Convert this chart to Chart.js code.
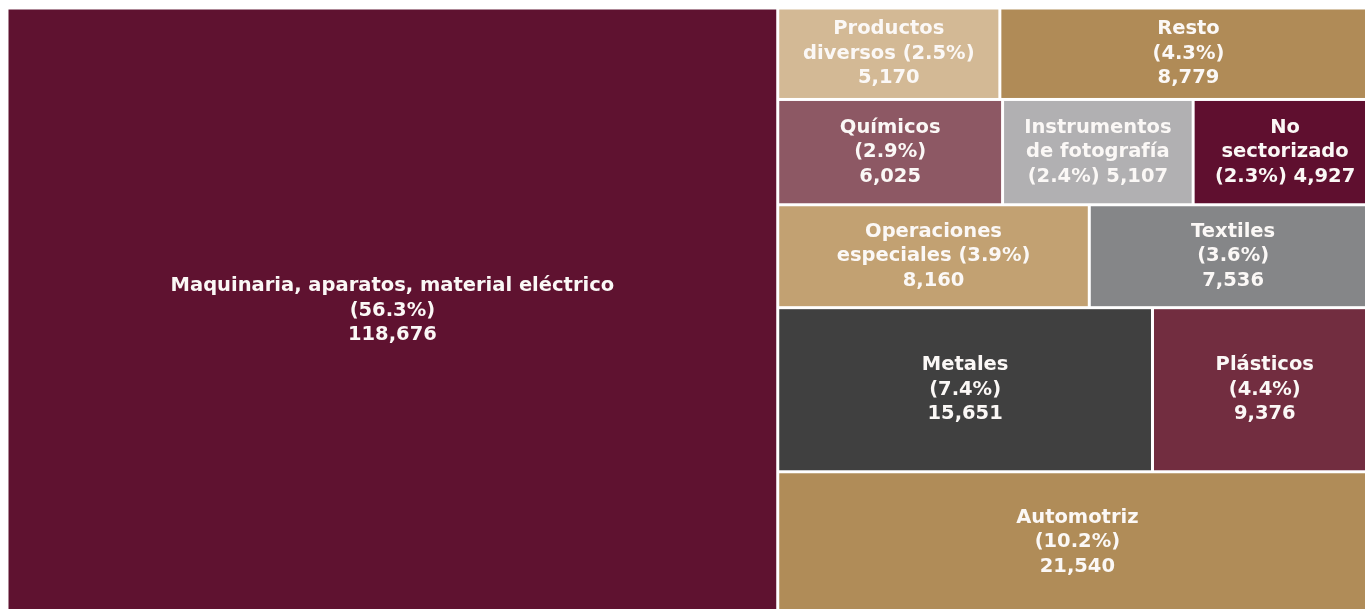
<!DOCTYPE html>
<html>
<head>
<meta charset="utf-8">
<script src="https://cdn.jsdelivr.net/npm/chart.js@4.4.0/dist/chart.umd.min.js"></script>
<style>
  html, body { margin: 0; padding: 0; background: #fff; overflow: hidden; }
  #wrap { position: relative; width: 1377px; height: 613px; }
</style>
</head>
<body>
<div id="wrap"><canvas id="treemap"></canvas></div>
<script>
const sectors = [
  'Maquinaria, aparatos, material eléctrico',
  'Productos diversos',
  'Resto',
  'Químicos',
  'Instrumentos de fotografía',
  'No sectorizado',
  'Operaciones especiales',
  'Textiles',
  'Metales',
  'Plásticos',
  'Automotriz'
];
const values = [118676, 5170, 8779, 6025, 5107, 4927, 8160, 7536, 15651, 9376, 21540];
const shares = [56.3, 2.5, 4.3, 2.9, 2.4, 2.3, 3.9, 3.6, 7.4, 4.4, 10.2];
const colors = [
  '#5f1230', '#d3b995', '#b08b57', '#8d5864', '#b1b0b2', '#5f0f2f',
  '#c2a172', '#858688', '#404040', '#722d40', '#b08c58'
];
// line breaks of each label, {p} = share, {v} = value
const labelLines = [
  ['Maquinaria, aparatos, material eléctrico', '{p}', '{v}'],
  ['Productos', 'diversos {p}', '{v}'],
  ['Resto', '{p}', '{v}'],
  ['Químicos', '{p}', '{v}'],
  ['Instrumentos', 'de fotografía', '{p} {v}'],
  ['No', 'sectorizado', '{p} {v}'],
  ['Operaciones', 'especiales {p}', '{v}'],
  ['Textiles', '{p}', '{v}'],
  ['Metales', '{p}', '{v}'],
  ['Plásticos', '{p}', '{v}'],
  ['Automotriz', '{p}', '{v}']
];
// first sector takes its own column, the rest are stacked rows on the right
const rightRows = [[1, 2], [3, 4, 5], [6, 7], [8, 9], [10]];

function layoutCells() {
  const total = values.reduce((a, b) => a + b, 0);
  const cells = [];
  const leftW = values[0] / total;
  cells[0] = { x0: 0, x1: leftW, y0: 0, y1: 1 };
  const rightSum = total - values[0];
  let y = 0;
  rightRows.forEach(row => {
    const rowSum = row.reduce((a, i) => a + values[i], 0);
    const h = rowSum / rightSum;
    let x = leftW;
    row.forEach(i => {
      const w = (values[i] / rowSum) * (1 - leftW);
      cells[i] = { x0: x, x1: x + w, y0: y, y1: y + h };
      x += w;
    });
    y += h;
  });
  return cells;
}

const cells = layoutCells();

const treemapPlugin = {
  id: 'treemapCells',
  afterDatasetsDraw(chart) {
    const ctx = chart.ctx;
    const xs = chart.scales.x, ys = chart.scales.y;
    const gap = 1.5;
    ctx.save();
    cells.forEach((c, i) => {
      const left = xs.getPixelForValue(c.x0) + gap;
      const right = xs.getPixelForValue(c.x1) - gap;
      const top = ys.getPixelForValue(c.y0) + gap;
      const bottom = ys.getPixelForValue(c.y1) - gap;
      ctx.fillStyle = colors[i];
      ctx.fillRect(left, top, right - left, bottom - top);

      const lines = labelLines[i].map(s => s
        .replace('{p}', '(' + shares[i].toFixed(1) + '%)')
        .replace('{v}', values[i].toLocaleString('en-US')));
      const lh = 24.5;
      const cx = (left + right) / 2;
      const cy = (top + bottom) / 2;
      ctx.fillStyle = '#fbf8f6';
      ctx.font = 'bold 19.5px "DejaVu Sans"';
      ctx.textAlign = 'center';
      ctx.textBaseline = 'middle';
      lines.forEach((t, k) => {
        ctx.fillText(t, cx, cy + (k - (lines.length - 1) / 2) * lh);
      });
    });
    ctx.restore();
  }
};

new Chart(document.getElementById('treemap').getContext('2d'), {
  type: 'scatter',
  data: {
    datasets: [{
      label: 'Sectores',
      data: cells.map((c, i) => ({ x: (c.x0 + c.x1) / 2, y: (c.y0 + c.y1) / 2, name: sectors[i] })),
      pointRadius: 0
    }]
  },
  options: {
    responsive: true,
    maintainAspectRatio: false,
    animation: false,
    layout: { padding: { left: 7, top: 8, right: 0, bottom: 0 } },
    scales: {
      x: { type: 'linear', min: 0, max: 1, display: false },
      y: { type: 'linear', min: 0, max: 1, reverse: true, display: false }
    },
    plugins: {
      legend: { display: false },
      tooltip: { enabled: false }
    }
  },
  plugins: [treemapPlugin]
});
</script>
</body>
</html>
